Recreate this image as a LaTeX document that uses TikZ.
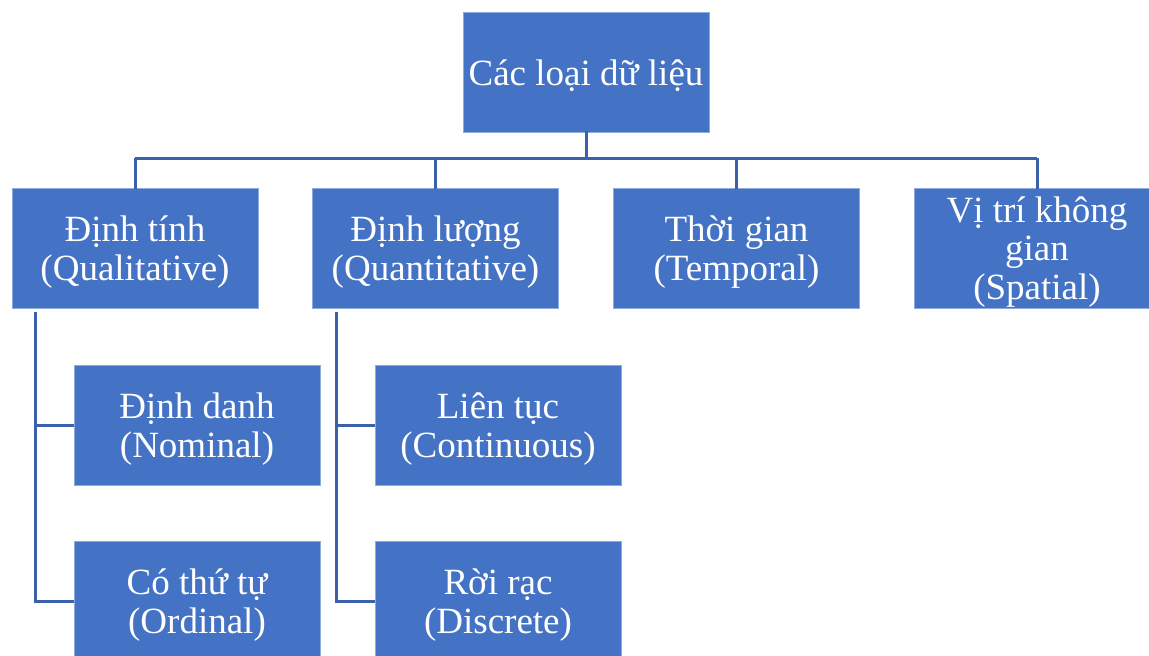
\documentclass[tikz,border=0pt]{standalone}
\usepackage{fontspec}
\setmainfont{Liberation Serif}
\begin{document}
\begin{tikzpicture}[x=1pt,y=-1pt,
  box/.style={rectangle, fill=boxblue, draw=edgeblue, line width=0.8pt, minimum width=246pt, minimum height=120pt, inner sep=0pt},
  lab/.style={text=white, align=center, inner sep=0pt, yshift=-4pt, font=\fontsize{37}{38.8}\selectfont},
  conn/.style={draw=lineblue, line width=3pt}]
\definecolor{boxblue}{HTML}{4472C4}
\definecolor{edgeblue}{HTML}{8FAADC}
\definecolor{lineblue}{HTML}{3D60AA}
\useasboundingbox (0,0) rectangle (1149,656);
\clip (0,0) rectangle (1149,656);
\node[box, label={[lab]center:{Các loại dữ liệu}}] (root) at (586,72) {};
\node[box, label={[lab]center:{Định tính\\(Qualitative)}}] (qual) at (135,248) {};
\node[box, label={[lab]center:{Định lượng\\(Quantitative)}}] (quan) at (435.5,248) {};
\node[box, label={[lab]center:{Thời gian\\(Temporal)}}] (temp) at (736.5,248) {};
\node[box, label={[lab]center:{Vị trí không\\gian\\(Spatial)}}] (spat) at (1037,248) {};
\node[box, label={[lab]center:{Định danh\\(Nominal)}}] (nom) at (197,425) {};
\node[box, label={[lab]center:{Có thứ tự\\(Ordinal)}}] (ord) at (197,601) {};
\node[box, label={[lab]center:{Liên tục\\(Continuous)}}] (cont) at (498,425) {};
\node[box, label={[lab]center:{Rời rạc\\(Discrete)}}] (disc) at (498,601) {};
\coordinate (bus) at (586,158);
\coordinate (qv) at (35,312);
\coordinate (nv) at (336,312);
\draw[conn] ([yshift=1pt]root.south) -- (bus);
\draw[conn] (qual.north |- bus) -- (spat.north |- bus);
\foreach \n in {qual,quan,temp,spat} \draw[conn] (\n.north |- bus) -- ([yshift=-1pt]\n.north);
\draw[conn] (qv) |- (nom.west);
\draw[conn] (qv) |- (ord.west);
\draw[conn] (nv) |- (cont.west);
\draw[conn] (nv) |- (disc.west);
\end{tikzpicture}
\end{document}
